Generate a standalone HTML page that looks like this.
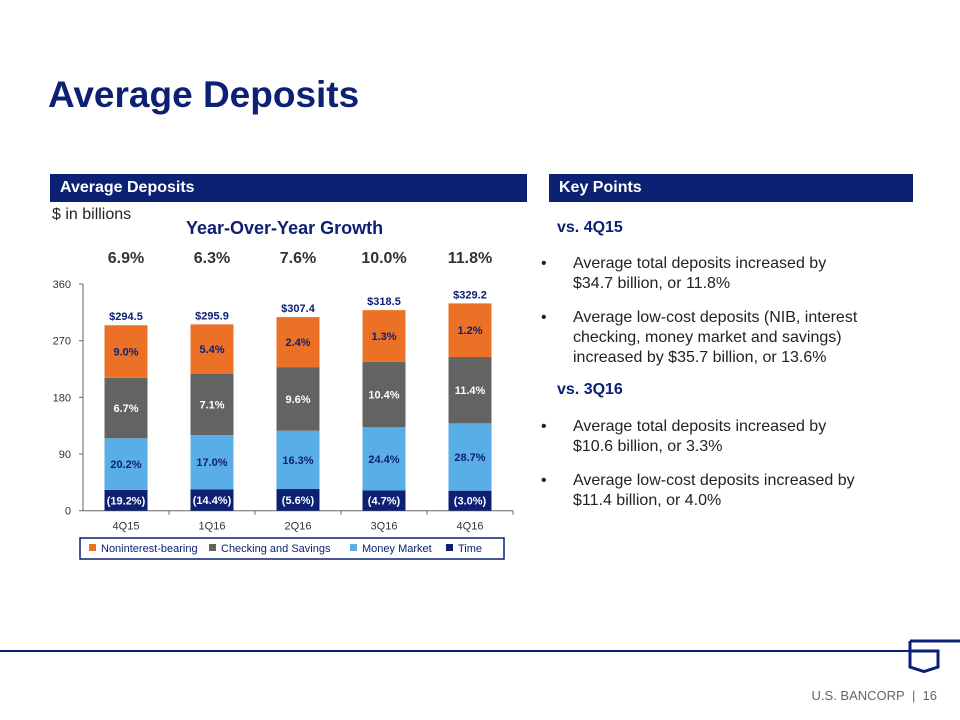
<!DOCTYPE html>
<html><head><meta charset="utf-8"><style>
body{margin:0;width:960px;height:720px;background:#fff;font-family:"Liberation Sans",Arial,sans-serif;position:relative;overflow:hidden}
.a{position:absolute}
.hdr{position:absolute;top:174px;height:28px;background:#0c2074;color:#fff;font-weight:bold;font-size:16px;line-height:28px;padding-left:10px;box-sizing:border-box}
.kp{position:absolute;left:557px;font-size:16px;color:#222;line-height:20px}
.bl{position:absolute;left:573px;width:340px;font-size:16px;color:#222;line-height:20px}
.bl::before{content:"•";position:absolute;left:-32px}
.b{font-weight:bold;color:#0c2074}
</style></head><body>
<div class="a" style="left:48px;top:74px;font-size:37px;font-weight:bold;color:#0c2074">Average Deposits</div>
<div class="hdr" style="left:50px;width:477px">Average Deposits</div>
<div class="hdr" style="left:549px;width:364px">Key Points</div>
<div class="a" style="left:52px;top:206px;font-size:16px;color:#222">$ in billions</div>
<div class="a" style="left:186px;top:218px;font-size:18px;font-weight:bold;color:#0c2074">Year-Over-Year Growth</div>
<div class="kp b" style="top:218px">vs. 4Q15</div>
<div class="bl" style="top:254px">Average total deposits increased by<br>$34.7 billion, or 11.8%</div>
<div class="bl" style="top:308px">Average low-cost deposits (NIB, interest checking, money market and savings) increased by $35.7 billion, or 13.6%</div>
<div class="kp b" style="top:380px">vs. 3Q16</div>
<div class="bl" style="top:417px">Average total deposits increased by<br>$10.6 billion, or 3.3%</div>
<div class="bl" style="top:471px">Average low-cost deposits increased by<br>$11.4 billion, or 4.0%</div>
<svg class="a" style="left:0;top:0" width="960" height="720" id="chart"></svg>
<div class="a" style="left:0;top:650px;width:912px;height:2px;background:#0c2074"></div>
<svg class="a" style="left:900px;top:630px" width="60" height="45"><path d="M10 11 H60 M10 11 V37 L24 41.5 L38 37 V21 H10" fill="none" stroke="#0c2074" stroke-width="3"/></svg>
<div class="a" style="left:800px;top:688px;font-size:13px;color:#666;white-space:nowrap;width:137px;text-align:right">U.S. BANCORP&nbsp; |&nbsp; 16</div>
<script>
const cats=["4Q15","1Q16","2Q16","3Q16","4Q16"];
const growth=["6.9%","6.3%","7.6%","10.0%","11.8%"];
const totals=["$294.5","$295.9","$307.4","$318.5","$329.2"];
const time=[33,34,34.4,32.3,31.8];
const mm=[82,86,92.6,100.1,106.9];
const cs=[96,97.6,101,104.2,105.3];
const nib=[83.5,78.3,79.4,81.9,85.2];
const timeLbl=["(19.2%)","(14.4%)","(5.6%)","(4.7%)","(3.0%)"];
const mmLbl=["20.2%","17.0%","16.3%","24.4%","28.7%"];
const csLbl=["6.7%","7.1%","9.6%","10.4%","11.4%"];
const nibLbl=["9.0%","5.4%","2.4%","1.3%","1.2%"];
const yTicks=[0,90,180,270,360];
const svg=document.getElementById('chart');const NS="http://www.w3.org/2000/svg";
const x0=83,x1=513,yb=510.7,yt=284;
const y=v=>yb-(v/360)*(yb-yt);
const xc=i=>x0+(i+0.5)*(x1-x0)/cats.length;
function mk(t,a,txt){const e=document.createElementNS(NS,t);for(const k in a)e.setAttribute(k,a[k]);if(txt!=null)e.textContent=txt;svg.appendChild(e);return e;}
let e=mk('line',{x1:x0,x2:x0,y1:yt,y2:yb,stroke:'#666'});


e=mk('line',{x1:x0,x2:x1,y1:yb,y2:yb,stroke:'#666'});


yTicks.forEach(v=>{mk('line',{x1:x0-4,x2:x0,y1:y(v),y2:y(v),stroke:'#666'});
e=mk('text',{x:x0-12,y:y(v)+4,'text-anchor':'end','font-size':11,fill:'#333'},v);

});
const series=[[time,timeLbl,'#0c2074','#fff','time'],[mm,mmLbl,'#5aaee6','#0c2074','money-market'],[cs,csLbl,'#636363','#fff','checking-savings'],[nib,nibLbl,'#ea7125','#0c2074','noninterest-bearing']];
cats.forEach((c,i)=>{
 const cx=xc(i);let base=0;
 mk('line',{x1:x0+(i+1)*86,x2:x0+(i+1)*86,y1:yb,y2:yb+4,stroke:'#666'});
 series.forEach(s=>{const v=s[0][i];
  e=mk('rect',{x:cx-21.5,y:y(base+v),width:43,height:y(base)-y(base+v),fill:s[2]});
  
  
  e=mk('text',{x:cx,y:(y(base)+y(base+v))/2+4,'text-anchor':'middle','font-size':11,'font-weight':'bold',fill:s[3]},s[1][i]);
  
  
  base+=v;});
 e=mk('text',{x:cx,y:y(base)-5,'text-anchor':'middle','font-size':11,'font-weight':'bold',fill:'#0c2074'},totals[i]);
 
 
 e=mk('text',{x:cx,y:yb+19,'text-anchor':'middle','font-size':11,fill:'#333'},c);
 
 
 e=mk('text',{x:cx,y:263,'text-anchor':'middle','font-size':16,'font-weight':'bold',fill:'#333'},growth[i]);
 
 
});
e=mk('rect',{x:80,y:538,width:424,height:21,fill:'none',stroke:'#0c2074','stroke-width':1.5});


const leg=[['Noninterest-bearing','#ea7125',89],['Checking and Savings','#636363',209],['Money Market','#5aaee6',350],['Time','#0c2074',446]];
leg.forEach(l=>{mk('rect',{x:l[2],y:544,width:7,height:7,fill:l[1]});
 e=mk('text',{x:l[2]+12,y:552,'font-size':11,fill:'#0c2074'},l[0]);
 
 });
</script>
</body></html>
